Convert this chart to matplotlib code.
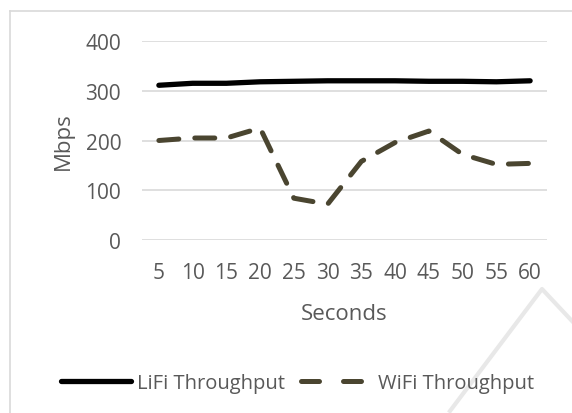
import matplotlib.pyplot as plt
from matplotlib.lines import Line2D

# values
seconds = ['5', '10', '15', '20', '25', '30', '35', '40', '45', '50', '55', '60']
lifi = [311, 315, 315, 318, 319, 320, 320, 320, 319, 319, 318, 320]
wifi = [200, 205, 205, 225, 84, 72, 158, 196, 219, 172, 152, 154]

grey_txt = '#595959'
wifi_col = '#4A4530'

plt.rcParams['font.family'] = ['Open Sans', 'DejaVu Sans']

fig = plt.figure(figsize=(5.72, 4.14), dpi=100)
ax = fig.add_axes([142/572, 1 - 241/414, 405/572, 199/414])

xs = range(len(seconds))
ax.plot(xs, lifi, color='black', lw=3.8, solid_capstyle='round',
        label='LiFi Throughput')
ax.plot(xs, wifi, color=wifi_col, lw=3.6, dashes=(4, 3.2),
        dash_capstyle='round', label='WiFi Throughput')

ax.set_xlim(-0.5, len(seconds) - 0.5)
ax.set_ylim(0, 400)
ax.set_yticks([0, 100, 200, 300, 400])
ax.set_xticks(list(xs))
ax.set_xticklabels(seconds)
ax.grid(axis='y', color='#D9D9D9', lw=1.2)
ax.set_axisbelow(True)
for s in ax.spines.values():
    s.set_visible(False)
ax.tick_params(length=0, labelsize=15, colors=grey_txt)
ax.tick_params(axis='y', pad=15)
ax.tick_params(axis='x', pad=16)
ax.set_xlabel('Seconds', fontsize=16, color=grey_txt, labelpad=14)
ax.set_ylabel('Mbps', fontsize=16, color=grey_txt, labelpad=8)

handles = [Line2D([], [], color='black', lw=3.8, solid_capstyle='round'),
           Line2D([], [], color=wifi_col, lw=3.6, dashes=(3.6, 4.8),
                  dash_capstyle='round')]
fig.legend(handles, ['LiFi Throughput', 'WiFi Throughput'], loc='center',
           bbox_to_anchor=(0.52, 1 - 384/414), ncol=2, frameon=False,
           fontsize=14.5, labelcolor=grey_txt, handlelength=3.5,
           handletextpad=0.3, columnspacing=0.8)

# chart frame (cropped at right and bottom) and faint page watermark
fig.add_artist(Line2D([10/572, 10/572], [0, 1 - 12/414], color='#D9D9D9', lw=1.2))
fig.add_artist(Line2D([10/572, 1], [1 - 12/414, 1 - 12/414], color='#D9D9D9', lw=1.2))
fig.add_artist(Line2D([450/572, 542/572, 1], [1 - 412/414, 1 - 290/414, 1 - 322/414],
                      color='#E8E8E8', lw=3, zorder=-1))

fig.savefig('out.png', dpi=100)
